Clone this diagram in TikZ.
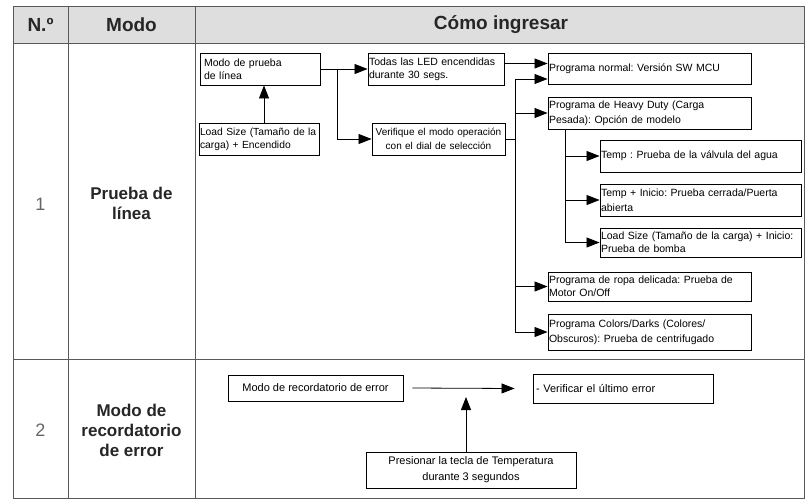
\documentclass[tikz,border=0pt]{standalone}
\usepackage{fontspec}
\setmainfont{Liberation Sans}
\usepackage{tikz}
\usetikzlibrary{positioning, shapes.geometric, arrows.meta, calc}
\frenchspacing

\begin{document}
\begin{tikzpicture}[x=1pt, y=-1pt, >={Triangle[length=13pt,width=10pt]}]

% Define block styles
\tikzstyle{block} = [draw, rectangle, line width=0.9pt, inner xsep=1pt, inner ysep=0pt, align=left, font=\fontsize{10.5}{13}\selectfont]
\tikzstyle{wide} = [font=\fontsize{10.5}{15}\selectfont]
\tikzstyle{block2} = [block, align=center, font=\fontsize{11}{16}\selectfont]
\tikzstyle{head} = [font=\fontsize{19}{22}\selectfont\bfseries, text=black!85]
\tikzstyle{mode} = [align=center, font=\fontsize{17}{20}\selectfont\bfseries, text=black!85]
\tikzstyle{num} = [font=\fontsize{18}{20}\selectfont, text=black!60]
\tikzstyle{grid} = [draw=black!65, line width=0.8pt]
\tikzstyle{line} = [line width=0.8pt]

\useasboundingbox (0,0) rectangle (810,501);

% Table
\fill [black!13] (13,6) rectangle (804,43);
\draw [grid] (13,6) rectangle (804,498);
\draw [grid] (13,43) -- (804,43);
\draw [grid] (13,359) -- (804,359);
\draw [grid] (68,6) -- (68,498);
\draw [grid] (195,6) -- (195,498);

% Header
\node [head] (hnum) at (40.5,25) {N.º};
\node [head] (hmode) at (131.5,25) {Modo};
\node [head] (hhow) at (501,25) {Cómo ingresar};

% Modes
\node [num] (n1) at (40.5,204) {1};
\node [mode] (m1) at (131.5,203) {Prueba de\\línea};
\node [num] (n2) at (40.5,430) {2};
\node [mode] (m2) at (131.5,430) {Modo de\\recordatorio\\de error};

% Nodes
\node [block, text width=118pt, minimum height=32pt] (lmode) at (260,69) {\hspace*{3pt}Modo de prueba\\\hspace*{3pt}de línea};
\node [block, text width=118pt, minimum height=32pt, font=\fontsize{10.3}{13}\selectfont] (lsize) at (259,139) {Load Size (Tamaño de la\\carga) + Encendido};
\node [block, text width=134pt, minimum height=32pt] (leds) at (436,69) {Todas las LED encendidas\\durante 30 segs.};
\node [block, align=center, text width=131pt, minimum height=32pt, font=\fontsize{10}{14}\selectfont] (dial) at (438.5,139) {Verifique el modo operación\\con el dial de selección};
\node [block, text width=201pt, minimum height=31pt] (normal) at (649.5,68.5) {Programa normal: Versión SW MCU};
\node [block, wide, text width=201pt, minimum height=32pt] (heavy) at (649.5,113) {Programa de Heavy Duty (Carga\\Pesada): Opción de modelo};
\node [block, text width=199pt, minimum height=32pt] (temp) at (700.5,156) {Temp : Prueba de la válvula del agua};
\node [block, wide, text width=199pt, minimum height=32pt] (tstart) at (700.5,200) {Temp + Inicio: Prueba cerrada/Puerta\\abierta};
\node [block, text width=199pt, minimum height=29pt] (pump) at (700.5,242.5) {Load Size (Tamaño de la carga) + Inicio:\\Prueba de bomba};
\node [block, text width=201pt, minimum height=29pt] (delicate) at (649.5,286.5) {Programa de ropa delicada: Prueba de\\Motor On/Off};
\node [block, wide, text width=201pt, minimum height=36pt] (colors) at (649.5,332) {Programa Colors/Darks (Colores/\\Obscuros): Prueba de centrifugado};

\node [block2, minimum width=175pt, minimum height=26pt] (remind) at (315.5,388) {Modo de recordatorio de error};
\node [block2, align=left, text width=178pt, minimum height=29pt] (lasterr) at (623,388.5) {\hspace*{2pt}- Verificar el último error};
\node [block2, minimum width=210pt, minimum height=36pt] (press) at (471,470) {Presionar la tecla de Temperatura\\durante 3 segundos};

\coordinate (split) at (337,69);
\coordinate (trunk) at (515,79);
\coordinate (nin) at ([yshift=5pt]normal.west);
\coordinate (branch) at ($(heavy.south west)+(18,0)$);
\coordinate (meet) at (466,397);

% Connections
\draw [line, ->] ([xshift=5pt]lsize.north) -- ([xshift=5pt]lsize.north |- lmode.south);
\draw [line, ->] (lmode.east) -- (leds.west);
\draw [line, ->] (split) |- (dial.west);
\draw [line, ->] (nin -| leds.east) -- (nin);
\draw [line] (dial.east) -- (dial.east -| trunk);
\draw [line] (trunk) -- (trunk |- colors.west);
\draw [line, ->] (trunk) -- (trunk -| normal.west);
\draw [line, ->] (trunk |- heavy.west) -- (heavy.west);
\draw [line, ->] (trunk |- delicate.west) -- (delicate.west);
\draw [line, ->] (trunk |- colors.west) -- (colors.west);
\draw [line] (branch) -- (branch |- pump.west);
\draw [line, ->] (branch |- temp.west) -- (temp.west);
\draw [line, ->] (branch |- tstart.west) -- (tstart.west);
\draw [line, ->] (branch |- pump.west) -- (pump.west);
\draw [line, ->] ([xshift=9pt]remind.east) -- ([xshift=-18pt]lasterr.west);
\draw [line, ->] (press.north -| meet) -- (meet);

\end{tikzpicture}
\end{document}
